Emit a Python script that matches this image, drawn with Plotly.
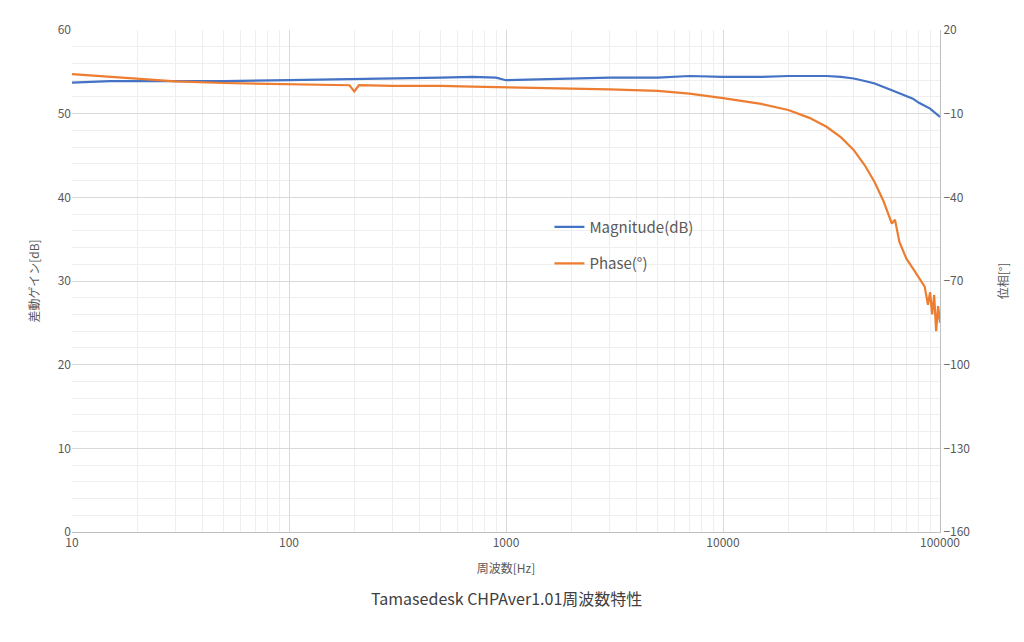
import plotly.graph_objects as go

freq_mag = [10, 12, 15, 20, 30, 50, 100, 200, 300, 500, 700, 900, 1000, 1500, 2000, 3000, 5000, 7000, 10000, 15000, 20000, 30000, 35000, 40000, 45000, 50000, 60000, 70000, 75000, 80000, 90000, 100000]
mag_db =   [53.7, 53.8, 53.9, 53.9, 53.9, 53.9, 54.0, 54.1, 54.2, 54.3, 54.4, 54.3, 54.0, 54.1, 54.2, 54.3, 54.3, 54.5, 54.4, 54.4, 54.5, 54.5, 54.4, 54.2, 53.9, 53.6, 52.8, 52.1, 51.8, 51.3, 50.6, 49.6]

freq_ph = [10, 15, 20, 30, 50, 100, 190, 200, 210, 300, 500, 700, 1000, 2000, 3000, 5000, 7000, 10000, 15000, 20000, 25000, 30000, 35000, 40000, 45000, 50000, 55000, 60000, 62000, 65000, 70000, 75000, 80000, 85000, 88000, 90000, 92000, 94000, 96000, 98000, 100000]
phase =   [4.2, 3.2, 2.4, 1.6, 1.0, 0.5, 0.2, -2.0, 0.2, 0.0, 0.0, -0.3, -0.5, -1.0, -1.3, -1.8, -2.8, -4.4, -6.5, -8.7, -11.5, -14.7, -18.5, -23.0, -28.5, -34.6, -41.5, -49.4, -48.0, -56.0, -62.0, -65.5, -69.0, -72.0, -78.5, -74.0, -82.0, -75.0, -88.0, -79.0, -85.0]

fig = go.Figure()
fig.add_trace(go.Scatter(x=freq_mag, y=mag_db, name="Magnitude(dB)", mode="lines", legendgroup="a",
                         line=dict(color="#4472C4", width=2.2)))
fig.add_trace(go.Scatter(x=freq_ph, y=phase, name="Phase(°)", mode="lines", yaxis="y2", legendgroup="b",
                         line=dict(color="#ED7D31", width=2.2)))

font = "Noto Sans CJK JP"
fig.update_layout(
    width=1024, height=642, paper_bgcolor="white", plot_bgcolor="white",
    margin=dict(l=64, r=92, t=16, b=118),
    font=dict(family=font, color="#595959", size=12),
    xaxis=dict(type="log", range=[1, 5], tickvals=[10, 100, 1000, 10000, 100000],
               ticktext=["10", "100", "1000", "10000", "100000"],
               showgrid=True, gridcolor="#D9D9D9",
               minor=dict(showgrid=True, gridcolor="#EEEEEE", dtick="D1"),
               showline=True, linecolor="#BFBFBF",
               title=dict(text="周波数[Hz]", font=dict(size=12)), zeroline=False),
    yaxis=dict(range=[0, 60], dtick=10, gridcolor="#D9D9D9",
               minor=dict(showgrid=True, gridcolor="#EEEEEE", dtick=2),
               title=dict(text="差動ゲイン[dB]", font=dict(size=12)), zeroline=False),
    yaxis2=dict(range=[-160, 20], dtick=30, tick0=-160, overlaying="y", side="right",
                showgrid=False, showline=True, linecolor="#BFBFBF", zeroline=False,
                title=dict(text="位相[°]", font=dict(size=12), standoff=30)),
    legend=dict(x=0.55, y=0.64, xanchor="left", yanchor="top", bgcolor="rgba(0,0,0,0)",
                font=dict(size=15), tracegroupgap=14, traceorder="grouped"),
    annotations=[dict(text="Tamasedesk CHPAver1.01周波数特性", xref="paper", yref="paper",
                      x=0.5, y=-0.16, showarrow=False, font=dict(size=16, color="#404040"))],
)
fig.write_html("out.html")
